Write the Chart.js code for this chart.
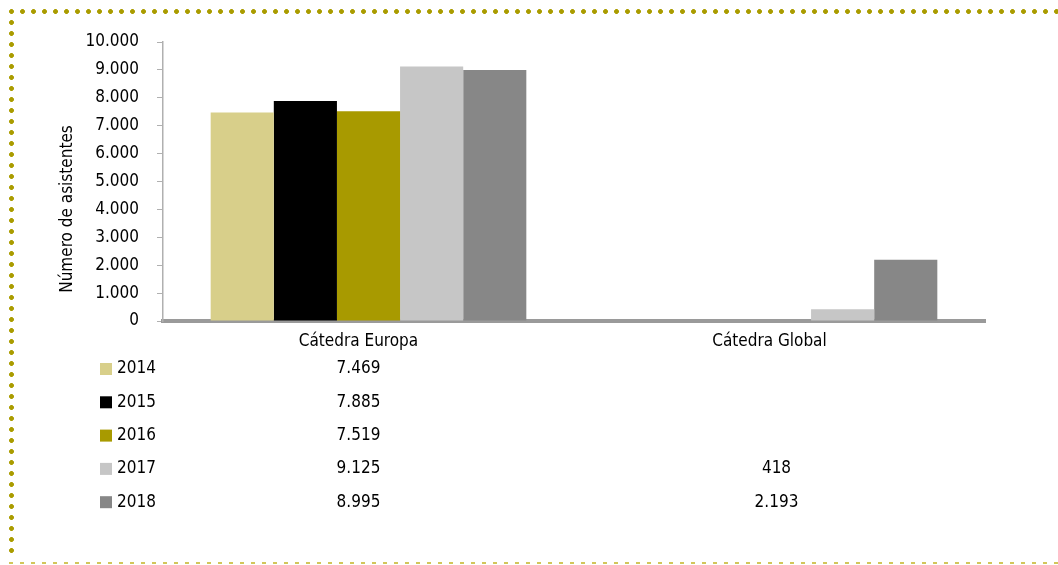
<!DOCTYPE html>
<html>
<head>
<meta charset="utf-8">
<script src="https://cdn.jsdelivr.net/npm/chart.js@4/dist/chart.umd.min.js"></script>
<style>
  html, body { margin: 0; padding: 0; background: #fff; }
  #wrap { position: relative; width: 1058px; height: 565px; overflow: hidden; }
  #chart { position: absolute; left: 0; top: 0; }
  .dots-top {
    position: absolute; left: 6px; top: 6px; width: 1052px; height: 11px;
    background: radial-gradient(circle, #aa9c00 2.1px, rgba(170,156,0,0) 2.7px) 0 0 / 11px 11px repeat-x;
  }
  .dots-left {
    position: absolute; left: 6px; top: 17px; width: 11px; height: 542px;
    background: radial-gradient(circle, #aa9c00 2.1px, rgba(170,156,0,0) 2.7px) 0 0 / 11px 11px repeat-y;
  }
  .dash-bottom {
    position: absolute; left: 9px; top: 562px; width: 1049px; height: 2px;
    background: linear-gradient(to right, #d2c65a 0, #d2c65a 4px, transparent 4px) 0 0 / 11px 2px repeat-x;
  }
</style>
</head>
<body>
<div id="wrap">
  <div class="dots-top"></div>
  <div class="dots-left"></div>
  <div class="dash-bottom"></div>
  <canvas id="chart" width="1058" height="565"></canvas>
</div>
<script>
const FONT = '"Liberation Sans Narrow", "DejaVu Sans Condensed", "Noto Sans", sans-serif';

const categories = ['Cátedra Europa', 'Cátedra Global'];
const years = ['2014', '2015', '2016', '2017', '2018'];
const europa = [7469, 7885, 7519, 9125, 8995];
const global = [null, null, null, 418, 2193];
const yearColors = ['#d8cf8a', '#000000', '#a89a00', '#c6c6c6', '#878787'];
const yTicks = [0, 1000, 2000, 3000, 4000, 5000, 6000, 7000, 8000, 9000, 10000];

function fmt(n) {
  return String(n).replace(/\B(?=(\d{3})+(?!\d))/g, '.');
}

const datasets = years.map((year, i) => ({
  label: year,
  data: [europa[i], global[i]],
  backgroundColor: yearColors[i],
  borderWidth: 0,
  barPercentage: 1,
  categoryPercentage: 0.768,
}));

// y title + data table under the plot
const tablePlugin = {
  id: 'table',
  afterDraw(chart) {
    const ctx = chart.ctx;
    const x = chart.scales.x;
    const area = chart.chartArea;
    const colShift = [-10, -3];
    ctx.save();
    ctx.font = '17px ' + FONT;
    ctx.textBaseline = 'middle';

    years.forEach((year, i) => {
      const y = area.bottom + 48 + i * 33.3;
      ctx.fillStyle = yearColors[i];
      ctx.fillRect(100, y - 6, 12, 12);
      ctx.fillStyle = '#000';
      ctx.textAlign = 'left';
      ctx.fillText(year, 117, y);
      ctx.textAlign = 'center';
      [europa[i], global[i]].forEach((v, c) => {
        if (v == null) return;
        ctx.fillText(fmt(v), x.getPixelForValue(c) + colShift[c], y);
      });
    });

    ctx.translate(68, 209);
    ctx.rotate(-Math.PI / 2);
    ctx.textAlign = 'center';
    ctx.fillText('Número de asistentes', 0, 0);
    ctx.restore();
  },
};

new Chart(document.getElementById('chart').getContext('2d'), {
  type: 'bar',
  data: { labels: categories, datasets },
  options: {
    responsive: false,
    animation: false,
    layout: { padding: { top: 42, right: 73, left: 0, bottom: 0 } },
    plugins: {
      legend: { display: false },
      tooltip: { enabled: false },
    },
    scales: {
      x: {
        grid: { display: false },
        border: { color: '#9a9a9a', width: 4 },
        ticks: {
          color: '#000',
          font: { family: FONT, size: 17 },
          padding: 2,
          labelOffset: -10,
        },
        afterFit(scale) { scale.height = 565 - 321; },
      },
      y: {
        min: 0,
        max: 10000,
        afterBuildTicks(scale) { scale.ticks = yTicks.map(v => ({ value: v })); },
        grid: { drawOnChartArea: false, color: '#b0b0b0', tickLength: 6 },
        border: { color: '#b0b0b0', width: 1.5 },
        ticks: {
          color: '#000',
          font: { family: FONT, size: 17 },
          padding: 18,
          callback: v => fmt(v),
        },
        afterFit(scale) { scale.width = 163; },
      },
    },
  },
  plugins: [tablePlugin],
});
</script>
</body>
</html>
